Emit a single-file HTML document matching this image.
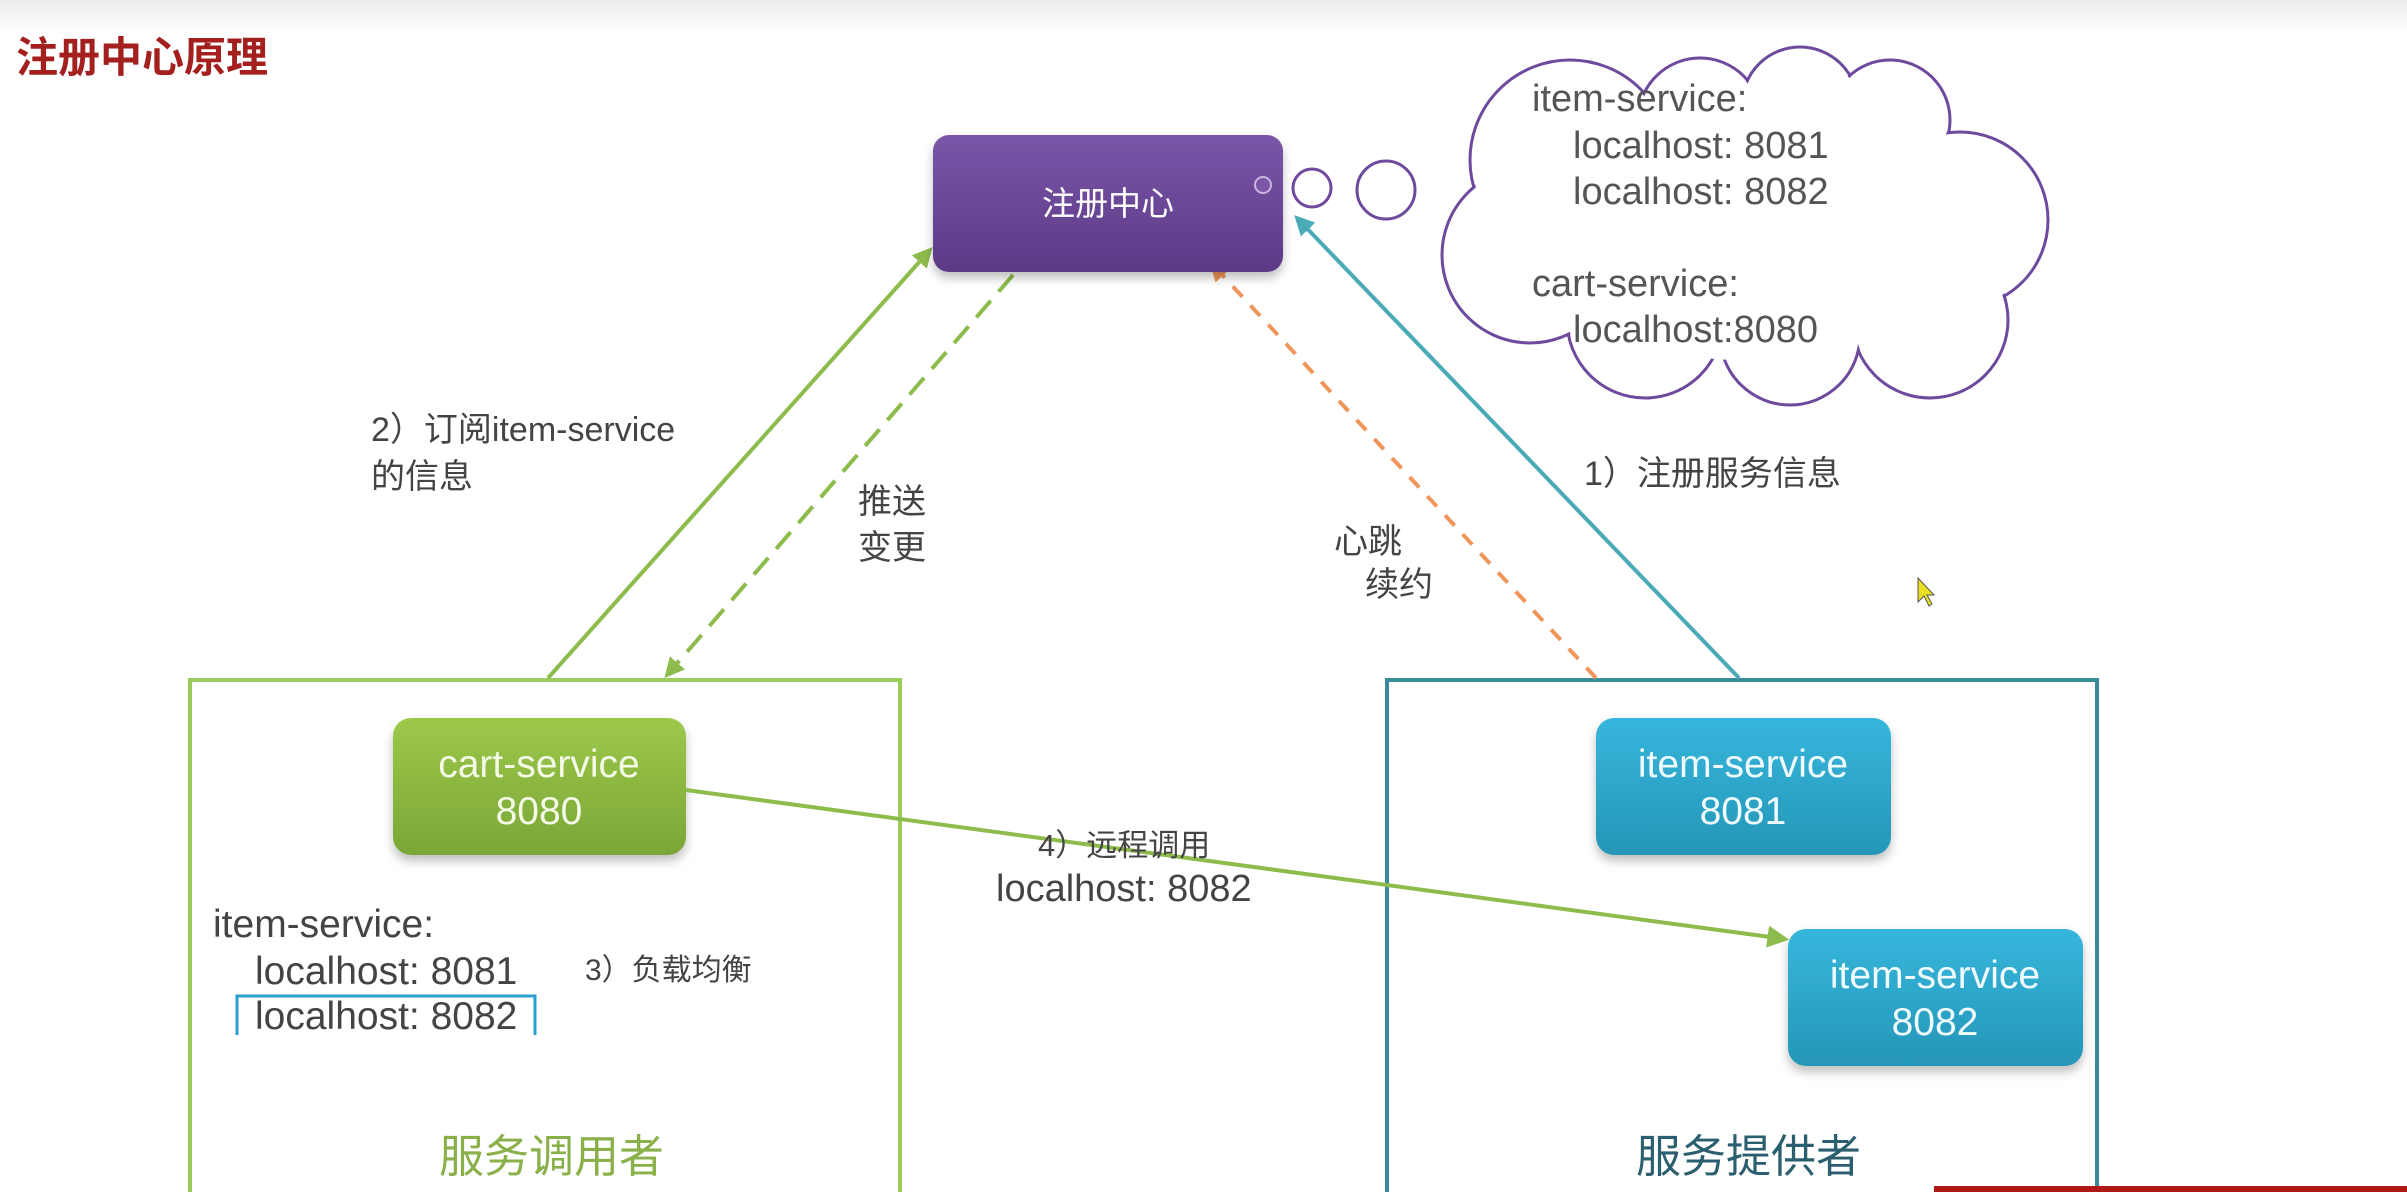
<!DOCTYPE html>
<html><head><meta charset="utf-8"><style>
html,body{margin:0;padding:0;background:#fff;}
svg{display:block;}
text{font-family:"Liberation Sans","Noto Sans CJK SC",sans-serif;}
</style></head><body>
<svg width="2407" height="1192" viewBox="0 0 2407 1192" xmlns="http://www.w3.org/2000/svg">
<defs>
<linearGradient id="top" x1="0" y1="0" x2="0" y2="1"><stop offset="0" stop-color="#ececec"/><stop offset="1" stop-color="#ffffff"/></linearGradient>
<linearGradient id="pur" x1="0" y1="0" x2="0" y2="1"><stop offset="0" stop-color="#7b55a8"/><stop offset="1" stop-color="#5c3a86"/></linearGradient>
<linearGradient id="grn" x1="0" y1="0" x2="0" y2="1"><stop offset="0" stop-color="#9cc84a"/><stop offset="1" stop-color="#7aa637"/></linearGradient>
<linearGradient id="blu" x1="0" y1="0" x2="0" y2="1"><stop offset="0" stop-color="#36b6dc"/><stop offset="1" stop-color="#2596b8"/></linearGradient>
<filter id="sh" x="-20%" y="-20%" width="140%" height="150%"><feDropShadow dx="0" dy="6" stdDeviation="5" flood-color="#000" flood-opacity="0.25"/></filter>
<marker id="ag" markerWidth="20" markerHeight="20" refX="8" refY="5" orient="auto" markerUnits="userSpaceOnUse" viewBox="0 0 10 10"><path d="M0,0 L10,5 L0,10 z" fill="#8dbb4c"/></marker>
<marker id="ao" markerWidth="20" markerHeight="20" refX="8" refY="5" orient="auto" markerUnits="userSpaceOnUse" viewBox="0 0 10 10"><path d="M0,0 L10,5 L0,10 z" fill="#f0955a"/></marker>
<marker id="at" markerWidth="20" markerHeight="20" refX="8" refY="5" orient="auto" markerUnits="userSpaceOnUse" viewBox="0 0 10 10"><path d="M0,0 L10,5 L0,10 z" fill="#4aaab8"/></marker>
<marker id="ag2" markerWidth="22" markerHeight="22" refX="8" refY="5" orient="auto" markerUnits="userSpaceOnUse" viewBox="0 0 10 10"><path d="M0,0 L10,5 L0,10 z" fill="#8dbb4c"/></marker>
</defs>
<rect x="0" y="0" width="2407" height="36" fill="url(#top)"/>
<text x="16" y="72" font-size="42" font-weight="bold" fill="#a3201f">注册中心原理</text>

<!-- cloud -->
<g stroke="#6e4a9e" stroke-width="3" fill="#fff">
<circle cx="1570" cy="160" r="100"/><circle cx="1700" cy="120" r="62"/><circle cx="1800" cy="105" r="58"/><circle cx="1890" cy="120" r="60"/>
<circle cx="1960" cy="220" r="88"/><circle cx="1930" cy="320" r="78"/><circle cx="1790" cy="335" r="70"/>
<circle cx="1645" cy="320" r="78"/><circle cx="1530" cy="255" r="88"/>
</g>
<g fill="#fff">
<circle cx="1570" cy="160" r="98"/><circle cx="1700" cy="120" r="60"/><circle cx="1800" cy="105" r="56"/><circle cx="1890" cy="120" r="58"/>
<circle cx="1960" cy="220" r="86"/><circle cx="1930" cy="320" r="76"/><circle cx="1790" cy="335" r="68"/>
<circle cx="1645" cy="320" r="76"/><circle cx="1530" cy="255" r="86"/>
<ellipse cx="1740" cy="230" rx="200" ry="130"/>
</g>
<g font-size="38" fill="#555">
<text x="1532" y="111">item-service:</text>
<text x="1573" y="158">localhost: 8081</text>
<text x="1573" y="204">localhost: 8082</text>
<text x="1532" y="296">cart-service:</text>
<text x="1573" y="342">localhost:8080</text>
</g>
<circle cx="1312" cy="188" r="19" fill="#fff" stroke="#6e4a9e" stroke-width="3"/>
<circle cx="1386" cy="190" r="29" fill="#fff" stroke="#6e4a9e" stroke-width="3"/>

<!-- boxes -->
<rect x="190" y="680" width="710" height="520" fill="none" stroke="#9ccc5c" stroke-width="4"/>
<rect x="1387" y="680" width="710" height="520" fill="none" stroke="#3a8a9a" stroke-width="4"/>

<!-- arrows -->
<line x1="548" y1="678" x2="930" y2="250" stroke="#8dbb4c" stroke-width="4" marker-end="url(#ag)"/>
<line x1="1013" y1="275" x2="667" y2="675" stroke="#8dbb4c" stroke-width="4" stroke-dasharray="22,12" marker-end="url(#ag)"/>
<line x1="1596" y1="678" x2="1212" y2="264" stroke="#f0955a" stroke-width="4" stroke-dasharray="14,12" marker-end="url(#ao)"/>
<line x1="1739" y1="678" x2="1297" y2="218" stroke="#4aaab8" stroke-width="4" marker-end="url(#at)"/>

<!-- nodes -->
<rect x="933" y="135" width="350" height="137" rx="16" fill="url(#pur)" filter="url(#sh)"/>
<circle cx="1263" cy="185" r="8" fill="#7b55a8" stroke="#c8b5e0" stroke-width="2"/>
<text x="1108" y="215" font-size="33" fill="#fff" text-anchor="middle">注册中心</text>

<rect x="393" y="718" width="293" height="137" rx="18" fill="url(#grn)" filter="url(#sh)"/>
<text x="539" y="777" font-size="39" fill="#f4fbe6" text-anchor="middle">cart-service</text>
<text x="539" y="824" font-size="39" fill="#f4fbe6" text-anchor="middle">8080</text>

<rect x="1596" y="718" width="295" height="137" rx="18" fill="url(#blu)" filter="url(#sh)"/>
<text x="1743" y="777" font-size="39" fill="#f0fbff" text-anchor="middle">item-service</text>
<text x="1743" y="824" font-size="39" fill="#f0fbff" text-anchor="middle">8081</text>

<rect x="1788" y="929" width="295" height="137" rx="18" fill="url(#blu)" filter="url(#sh)"/>
<text x="1935" y="988" font-size="39" fill="#f0fbff" text-anchor="middle">item-service</text>
<text x="1935" y="1035" font-size="39" fill="#f0fbff" text-anchor="middle">8082</text>

<line x1="686" y1="790" x2="1785" y2="939" stroke="#8dbb4c" stroke-width="4" marker-end="url(#ag2)"/>

<!-- labels -->
<g font-size="34" fill="#444">
<text x="371" y="441">2）订阅item-service</text>
<text x="371" y="488">的信息</text>
<text x="858" y="513">推送</text>
<text x="858" y="559">变更</text>
<text x="1334" y="553">心跳</text>
<text x="1365" y="596">续约</text>
<text x="1584" y="485">1）注册服务信息</text>
<text x="1038" y="856" font-size="31">4）远程调用</text>
<text x="996" y="901" font-size="38">localhost: 8082</text>
</g>
<g font-size="39" fill="#444">
<text x="213" y="937">item-service:</text>
<text x="255" y="984">localhost: 8081</text>
<text x="255" y="1029">localhost: 8082</text>
</g>
<text x="585" y="980" font-size="30" fill="#444">3）负载均衡</text>
<path d="M237,1035 L237,996 L535,996 L535,1035" fill="none" stroke="#2a9fd0" stroke-width="3"/>

<text x="439" y="1172" font-size="45" fill="#8ab04a">服务调用者</text>
<text x="1636" y="1172" font-size="45" fill="#2b5f70">服务提供者</text>

<path d="M1918,578 L1918,602 L1924,596 L1929,606 L1932,604 L1927,595 L1934,595 z" fill="#e8e020" stroke="#555" stroke-width="1"/>
<rect x="1934" y="1186" width="473" height="6" fill="#b01818"/>
</svg>
</body></html>
